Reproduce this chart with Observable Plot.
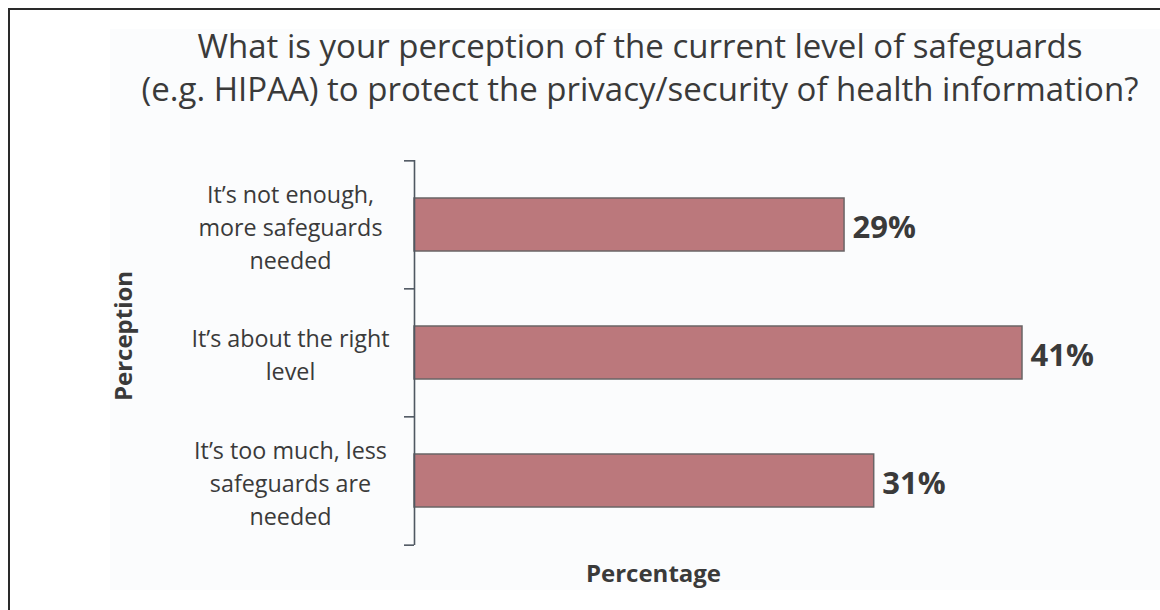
<!DOCTYPE html>
<html>
<head>
<meta charset="utf-8">
<script src="https://cdn.jsdelivr.net/npm/d3@7"></script>
<script src="https://cdn.jsdelivr.net/npm/@observablehq/plot@0.6"></script>
<style>
  html, body { margin: 0; padding: 0; background: #ffffff; }
  body { width: 1160px; height: 610px; overflow: hidden; position: relative; font-family: "Open Sans", sans-serif; }
  #frame { position: absolute; left: 8px; top: 8px; width: 1160px; height: 610px; border-left: 2px solid #2a2a2a; border-top: 2px solid #2a2a2a; z-index: 0; }
  #panel { position: absolute; left: 110px; top: 29px; width: 1050px; height: 561px; background: #fbfcfd; z-index: 0; }
  #content { position: relative; z-index: 1; }
  #title { height: 130px; box-sizing: border-box; padding-top: 24px; padding-left: 120px; text-align: center;
           font-size: 33px; line-height: 43px; color: #3a3a3a; font-family: "Open Sans", sans-serif; white-space: nowrap; }
  #chart svg { display: block; background: transparent; }
</style>
</head>
<body>
<div id="frame"></div>
<div id="panel"></div>
<div id="content">
  <div id="title">What is your perception of the current level of safeguards<br>(e.g. HIPAA) to protect the privacy/security of health information?</div>
  <div id="chart"></div>
</div>
<script>
const categories = [
  "It’s not enough,\nmore safeguards\nneeded",
  "It’s about the right\nlevel",
  "It’s too much, less\nsafeguards are\nneeded"
];
const values = [29, 41, 31];
const xLabel = "Percentage";
const yLabel = "Perception";

const data = categories.map((c, i) => ({category: c, value: values[i]}));

const W = 1160, H = 480, mT = 30, mB = 65, mL = 414, mR = 138;
const step = (H - mT - mB) / categories.length;
const ink = "#3a3a3a";
const axisColor = "#4f5862";

const chart = Plot.plot({
  width: W, height: H,
  marginTop: mT, marginBottom: mB, marginLeft: mL, marginRight: mR,
  style: {fontFamily: "'Open Sans', sans-serif", background: "transparent", color: ink, overflow: "visible"},
  x: {domain: [0, d3.max(values)], axis: null},
  y: {domain: categories, paddingInner: 0.587, paddingOuter: 0.2935, axis: null},
  marks: [
    Plot.barX(data, {x: "value", y: "category", fill: "#bb787c", stroke: "#6a6466", strokeWidth: 1.5}),
    Plot.ruleX([0], {stroke: axisColor, strokeWidth: 1.6}),
    Plot.axisY(categories, {tickSize: 10, tickFormat: () => "", dy: -step / 2, stroke: axisColor, strokeWidth: 1.6, label: null}),
    Plot.axisY([categories[categories.length - 1]], {tickSize: 10, tickFormat: () => "", dy: step / 2, stroke: axisColor, strokeWidth: 1.6, label: null}),
    Plot.text(data, {y: "category", text: "category", frameAnchor: "left", dx: -124, textAnchor: "middle",
                     lineAnchor: "middle", lineHeight: 1.42, fontSize: 23.3, fill: ink}),
    Plot.text(data, {x: "value", y: "category", text: d => d.value + "%", textAnchor: "start", dx: 8, dy: 3,
                     fontSize: 31, fontWeight: "bold", fill: ink}),
    Plot.text([xLabel], {frameAnchor: "bottom", textAnchor: "middle", lineAnchor: "middle", dx: -65, dy: 29,
                         fontSize: 24, fontWeight: "bold", fill: ink}),
    Plot.text([yLabel], {frameAnchor: "left", rotate: -90, textAnchor: "middle", lineAnchor: "middle", dx: -290, dy: -17,
                         fontSize: 24, fontWeight: "bold", fill: ink})
  ]
});
document.getElementById("chart").appendChild(chart);
</script>
</body>
</html>
